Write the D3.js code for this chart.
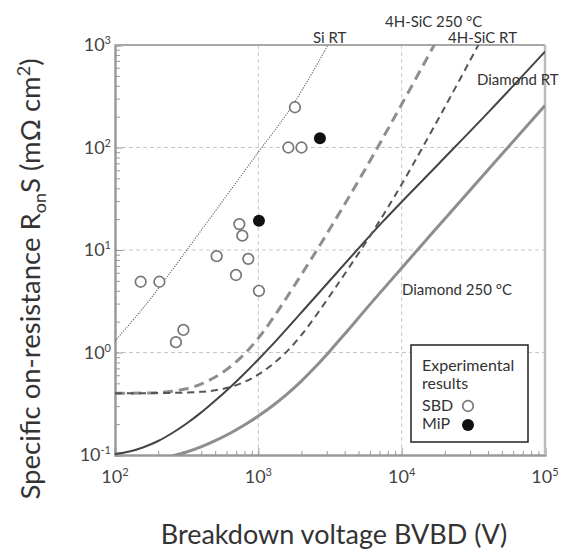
<!DOCTYPE html>
<html><head><meta charset="utf-8">
<script src="https://cdn.jsdelivr.net/npm/d3@7"></script>
<style>
body{margin:0;background:#fff}
text{font-family:Lato,"Open Sans",sans-serif}
</style>
</head><body>
<svg id="c" width="562" height="550"></svg>
<script>
// ---- data ----
const xTicks = [1e2, 1e3, 1e4, 1e5];
const xTickExp = ["2", "3", "4", "5"];
const yTicks = [1e-1, 1e0, 1e1, 1e2, 1e3];
const yTickExp = ["-1", "0", "1", "2", "3"];

const siRT_V  = [100, 150, 206, 392, 1000, 1750, 3060];
const siRT_R  = [1.3, 2.51, 4.42, 15.0, 90, 263, 1000];

const sic250_V = [100, 158, 200, 251, 316, 398, 501, 631, 794, 1000, 1259, 1585, 2512, 3981, 6310, 10000, 19950];
const sic250_R = [0.400, 0.402, 0.406, 0.418, 0.443, 0.491, 0.577, 0.718, 0.957, 1.38, 2.14, 3.48, 9.57, 27.6, 83.4, 264, 1535];

const sicRT_V = [100, 251, 398, 501, 631, 794, 1000, 1259, 1585, 1995, 2512, 3162, 3981, 6310, 10000, 19950, 39810];
const sicRT_R = [0.400, 0.404, 0.413, 0.428, 0.458, 0.514, 0.611, 0.769, 1.026, 1.48, 2.27, 3.60, 5.77, 15.2, 43.8, 246, 1483];

const diaRT_V = [100, 126, 158, 200, 251, 316, 398, 501, 631, 794, 1000, 1259, 2512, 7413, 18500, 41300, 100000];
const diaRT_R = [0.102, 0.108, 0.119, 0.137, 0.164, 0.203, 0.259, 0.340, 0.454, 0.618, 0.855, 1.20, 3.52, 19.0, 71.4, 229, 863];

const dia250_V = [251, 316, 398, 501, 631, 794, 1000, 1259, 1585, 1995, 2512, 3162, 3981, 6310, 19950, 100000];
const dia250_R = [0.098, 0.107, 0.120, 0.138, 0.162, 0.195, 0.240, 0.302, 0.392, 0.526, 0.730, 1.037, 1.50, 3.19, 20.1, 257];

const sbd_V = [1800, 1620, 2000, 737, 773, 512, 851, 698, 1010, 151, 204, 300, 266];
const sbd_R = [247, 100, 100, 17.9, 13.8, 8.7, 8.2, 5.7, 4.0, 4.9, 4.9, 1.66, 1.26];
const mip_V = [2690, 1010];
const mip_R = [123, 19.3];

// ---- layout ----
const L = 115, R = 545, T = 45, B = 455;
const svg = d3.select("#c");
const x = d3.scaleLog().domain([1e2, 1e5]).range([L, R]);
const y = d3.scaleLog().domain([1e-1, 1e3]).range([B, T]);

// grid
const grid = svg.append("g").attr("stroke", "#c8c8c8").attr("stroke-width", 1).attr("stroke-dasharray", "4,3");
[1e3, 1e4].forEach(v => grid.append("line").attr("x1", x(v)).attr("x2", x(v)).attr("y1", T).attr("y2", B));
[1e0, 1e1, 1e2].forEach(v => grid.append("line").attr("y1", y(v)).attr("y2", y(v)).attr("x1", L).attr("x2", R));

// minor tick values
const minorX = [], minorY = [];
for (let e = 2; e < 5; e++) for (let m = 2; m < 10; m++) minorX.push(m * Math.pow(10, e));
for (let e = -1; e < 3; e++) for (let m = 2; m < 10; m++) minorY.push(m * Math.pow(10, e));

// axes (ticks inward)
const axColor = "#999";
const gx = svg.append("g").attr("transform", `translate(0,${B})`)
  .call(d3.axisBottom(x).tickValues(minorX).tickSize(-4).tickFormat(""));
const gx2 = svg.append("g").attr("transform", `translate(0,${B})`)
  .call(d3.axisBottom(x).tickValues(xTicks).tickSize(-7).tickFormat(""));
const gy = svg.append("g").attr("transform", `translate(${L},0)`)
  .call(d3.axisLeft(y).tickValues(minorY).tickSize(-5).tickFormat(""));
const gy2 = svg.append("g").attr("transform", `translate(${L},0)`)
  .call(d3.axisLeft(y).tickValues(yTicks).tickSize(-8).tickFormat(""));
[gx, gx2, gy, gy2].forEach(g => {
  g.selectAll("line").attr("stroke", axColor).attr("stroke-width", 1);
  g.select(".domain").attr("stroke", axColor).attr("stroke-width", 2);
});
// top & right frame
svg.append("line").attr("x1", L).attr("x2", R).attr("y1", T).attr("y2", T).attr("stroke", "#a8a8a8").attr("stroke-width", 2);
svg.append("line").attr("x1", R).attr("x2", R).attr("y1", T).attr("y2", B).attr("stroke", "#bbb").attr("stroke-width", 2.5);

// tick labels
const lblColor = "#444";
xTicks.forEach((v, i) => {
  const t = svg.append("text").attr("x", x(v)).attr("y", 483).attr("text-anchor", "middle")
    .attr("font-size", 18).attr("fill", lblColor);
  t.append("tspan").text("10");
  t.append("tspan").attr("dy", -7).attr("font-size", 11).text(xTickExp[i]);
});
yTicks.forEach((v, i) => {
  const t = svg.append("text").attr("x", 111).attr("y", y(v) + 6).attr("text-anchor", "end")
    .attr("font-size", 18).attr("fill", lblColor);
  t.append("tspan").text("10");
  t.append("tspan").attr("dy", -7).attr("font-size", 11).text(yTickExp[i]);
});

// axis titles
svg.append("text").attr("x", 334).attr("y", 544).attr("text-anchor", "middle")
  .attr("font-size", 27).attr("fill", "#333").text("Breakdown voltage BVBD (V)");
const yt = svg.append("text").attr("transform", "translate(40,279) rotate(-90)")
  .attr("text-anchor", "middle").attr("font-size", 27.5).attr("fill", "#333");
yt.append("tspan").text("Specific on-resistance R");
yt.append("tspan").attr("font-size", 18).attr("dy", 6).text("on");
yt.append("tspan").attr("dy", -6).text("S (mΩ cm");
yt.append("tspan").attr("font-size", 18).attr("dy", -10).text("2");
yt.append("tspan").attr("dy", 10).text(")");

// curves
svg.append("clipPath").attr("id", "clip").append("rect")
  .attr("x", L).attr("y", T).attr("width", R - L).attr("height", B - T);
const line = d3.line().x(d => x(d[0])).y(d => y(d[1])).curve(d3.curveCatmullRom.alpha(0.5));
const zip = (a, b) => a.map((v, i) => [v, b[i]]);
const curves = svg.append("g").attr("clip-path", "url(#clip)").attr("fill", "none");
curves.append("path").attr("d", line(zip(siRT_V, siRT_R)))
  .attr("stroke", "#666").attr("stroke-width", 1.1).attr("stroke-dasharray", "1.2,1.3");
curves.append("path").attr("d", line(zip(dia250_V, dia250_R)))
  .attr("stroke", "#8e8e8e").attr("stroke-width", 3);
curves.append("path").attr("d", line(zip(diaRT_V, diaRT_R)))
  .attr("stroke", "#444").attr("stroke-width", 2);
curves.append("path").attr("d", line(zip(sic250_V, sic250_R)))
  .attr("stroke", "#8e8e8e").attr("stroke-width", 3).attr("stroke-dasharray", "10,6");
curves.append("path").attr("d", line(zip(sicRT_V, sicRT_R)))
  .attr("stroke", "#555").attr("stroke-width", 2).attr("stroke-dasharray", "7,5");

// markers
svg.append("g").selectAll("circle").data(zip(sbd_V, sbd_R)).join("circle")
  .attr("cx", d => x(d[0])).attr("cy", d => y(d[1])).attr("r", 5.3)
  .attr("fill", "#fff").attr("stroke", "#777").attr("stroke-width", 1.7);
svg.append("g").selectAll("circle").data(zip(mip_V, mip_R)).join("circle")
  .attr("cx", d => x(d[0])).attr("cy", d => y(d[1])).attr("r", 6)
  .attr("fill", "#111");

// annotations
const ann = [["4H-SiC 250 °C", 385, 27], ["Si RT", 313, 43], ["4H-SiC RT", 448, 43],
             ["Diamond RT", 477, 85], ["Diamond 250 °C", 402, 295]];
ann.forEach(a => svg.append("text").attr("x", a[1]).attr("y", a[2]).attr("font-size", 15)
  .attr("fill", "#333").text(a[0]));

// legend
svg.append("rect").attr("x", 411).attr("y", 345).attr("width", 117).attr("height", 97)
  .attr("fill", "#fff").attr("stroke", "#222").attr("stroke-width", 1.5);
[["Experimental", 371], ["results", 389], ["SBD", 411], ["MiP", 429]].forEach(a =>
  svg.append("text").attr("x", 422).attr("y", a[1]).attr("font-size", 16).attr("fill", "#333").text(a[0]));
svg.append("circle").attr("cx", 468).attr("cy", 406).attr("r", 5.3)
  .attr("fill", "#fff").attr("stroke", "#777").attr("stroke-width", 1.7);
svg.append("circle").attr("cx", 468).attr("cy", 425).attr("r", 6).attr("fill", "#111");
</script>
</body></html>
